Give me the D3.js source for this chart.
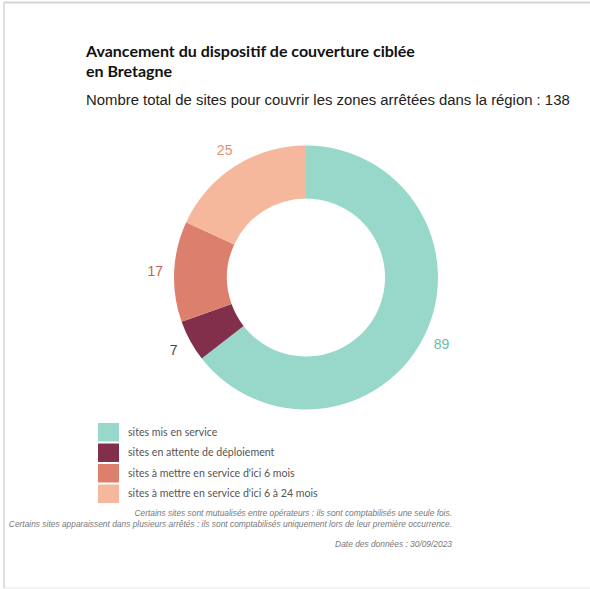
<!DOCTYPE html>
<html><head><meta charset="utf-8">
<script src="https://cdn.jsdelivr.net/npm/d3@7"></script>
<style>body{margin:0;background:#fff}svg{display:block}</style>
</head><body>
<script>
const categories = ["sites mis en service","sites en attente de déploiement","sites à mettre en service d'ici 6 mois","sites à mettre en service d'ici 6 à 24 mois"];
const values = [89, 7, 17, 25];
const colors = ["#98d8cb","#812f4a","#dc7f6c","#f5b89c"];
const labelColors = ["#6dbcab","#5e3446","#c4604f","#e0906c"];
const titleLines = ["Avancement du dispositif de couverture ciblée","en Bretagne"];
const subtitle = "Nombre total de sites pour couvrir les zones arrêtées dans la région : 138";
const notes = ["Certains sites sont mutualisés entre opérateurs : ils sont comptabilisés une seule fois.","Certains sites apparaissent dans plusieurs arrêtés : ils sont comptabilisés uniquement lors de leur première occurrence."];
const dateNote = "Date des données : 30/09/2023";

const W = 590, H = 589;
const svg = d3.select("body").append("svg").attr("width", W).attr("height", H);

// frame
svg.append("line").attr("x1",4).attr("x2",590).attr("y1",2.5).attr("y2",2.5).attr("stroke","#d4d4d4").attr("stroke-width",2);
svg.append("line").attr("x1",4).attr("x2",4).attr("y1",2).attr("y2",588).attr("stroke","#d4d4d4").attr("stroke-width",1.5);
svg.append("line").attr("x1",4).attr("x2",590).attr("y1",588).attr("y2",588).attr("stroke","#e6e6e6").attr("stroke-width",1);

const fitText = (sel, target) => {
  const n = sel.node(); const w = n.getComputedTextLength();
  const fs = parseFloat(sel.attr("font-size"));
  sel.attr("font-size", fs * target / w);
};
// title
const t1 = svg.append("text").attr("x",86).attr("y",57).attr("font-family","Lato, sans-serif").attr("font-weight",700).attr("font-size",17).attr("fill","#111").text(titleLines[0]);
fitText(t1, 329);
svg.append("text").attr("x",86).attr("y",77).attr("font-family","Lato, sans-serif").attr("font-weight",700).attr("font-size",t1.attr("font-size")).attr("fill","#111").text(titleLines[1]);
const st = svg.append("text").attr("x",86).attr("y",105).attr("font-family","Liberation Sans, Arial, sans-serif").attr("font-size",15).attr("fill","#222").text(subtitle);
fitText(st, 484);

// donut
const cx = 306, cy = 277.5, rOuter = 132, rInner = 79, rLabel = 151;
const pie = d3.pie().sort(null).value(d => d)(values);
const arc = d3.arc().innerRadius(rInner).outerRadius(rOuter);
const g = svg.append("g").attr("transform", `translate(${cx},${cy})`);
g.selectAll("path").data(pie).join("path").attr("d", arc).attr("fill", (d,i) => colors[i]);
const labelArc = d3.arc().innerRadius(rLabel).outerRadius(rLabel);
g.selectAll("text").data(pie).join("text")
  .attr("transform", d => `translate(${labelArc.centroid(d)})`)
  .attr("text-anchor","middle").attr("dy","0.35em")
  .attr("font-family","Liberation Sans, Arial, sans-serif").attr("font-size",14)
  .attr("fill",(d,i)=>labelColors[i]).text(d => d.data);

// legend
const lg = svg.append("g");
const yL = d3.scaleBand().domain(d3.range(categories.length)).range([423, 503]).paddingInner(0.1).paddingOuter(0);
let legendTexts = [];
categories.forEach((c,i) => {
  lg.append("rect").attr("x",98).attr("y",yL(i)).attr("width",21).attr("height",yL.bandwidth()).attr("fill",colors[i]);
  legendTexts.push(lg.append("text").attr("x",128).attr("y",yL(i)+yL.bandwidth()/2).attr("dy","0.35em")
    .attr("font-family","Lato, sans-serif").attr("font-size",10).attr("fill","#555").text(c));
});
fitText(legendTexts[3], 190);
legendTexts.forEach(t => t.attr("font-size", legendTexts[3].attr("font-size")));

// notes
const noteEls = notes.map((n,i) => svg.append("text").attr("x",452).attr("y",516+i*11).attr("text-anchor","end")
    .attr("font-family","Liberation Sans, Arial, sans-serif").attr("font-style","italic").attr("font-size",9).attr("fill","#777").text(n));
fitText(noteEls[1], 444);
noteEls[0].attr("font-size", noteEls[1].attr("font-size"));
svg.append("text").attr("x",452).attr("y",547).attr("text-anchor","end")
  .attr("font-family","Liberation Sans, Arial, sans-serif").attr("font-style","italic").attr("font-size",noteEls[1].attr("font-size")).attr("fill","#777").text(dateNote);
</script>
</body></html>
